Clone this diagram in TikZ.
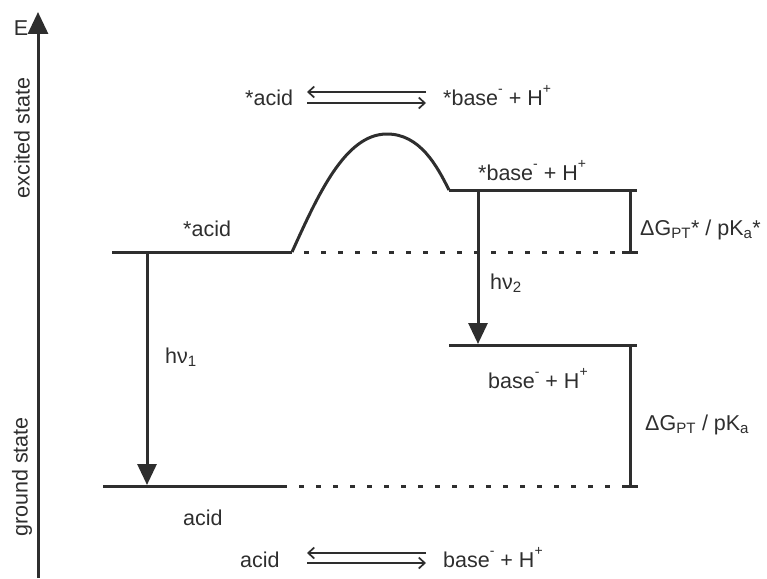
\documentclass[tikz,border=0pt]{standalone}
\usepackage{fontspec}
\setmainfont{Liberation Sans}
\usetikzlibrary{arrows.meta}
\definecolor{ink}{gray}{0.18}
\newcommand{\supx}[1]{\raisebox{0.55em}{\fontsize{14}{14}\selectfont #1}}
\tikzset{
  lvl/.style={line width=3pt, draw=ink},
  dots/.style={line width=3pt, draw=ink, dash pattern=on 5pt off 12pt},
  bar/.style={line width=3pt, draw=ink},
  photon/.style={line width=3pt, draw=ink, -{Triangle[length=21pt,width=19pt]}},
  eq/.style={line width=1.5pt, draw=ink, -{Straight Barb[length=6pt,width=11pt,line width=1.7pt]}},
  lbl/.style={inner sep=0pt, text=ink, font=\fontsize{21.5}{25}\selectfont},
}
\begin{document}
\begin{tikzpicture}[x=1pt,y=-1pt]
\useasboundingbox (0,0) rectangle (767,578);
% axis
\coordinate (ax0) at (38,578);
\coordinate (ax1) at (38,12);
\draw[line width=3pt, draw=ink, -{Triangle[length=22pt,width=20pt]}] (ax0) -- (ax1);
\node[lbl, anchor=base] (E) at (21,36) {E};
\node[lbl, rotate=90] (exc) at (22,138) {excited state};
\node[lbl, rotate=90] (gnd) at (22,477) {ground state};

% levels
\coordinate (sa0) at (112,252); \coordinate (sa1) at (292,252);
\coordinate (ga0) at (103,486); \coordinate (ga1) at (287,486);
\coordinate (sb0) at (449,190); \coordinate (sb1) at (637,190);
\coordinate (gb0) at (449,345); \coordinate (gb1) at (637,345);
\coordinate (sd1) at (622,252); \coordinate (gd1) at (622,486);
\coordinate (st0) at (622,252); \coordinate (st1) at (638,252);
\coordinate (gt0) at (622,486); \coordinate (gt1) at (638,486);
\draw[lvl] (sa0) -- (sa1);
\draw[lvl] (ga0) -- (ga1);
\draw[lvl] (sb0) -- (sb1);
\draw[lvl] (gb0) -- (gb1);
\draw[dots] (sa1) ++(12,0) -- (sd1);
\draw[dots] (ga1) ++(12,0) -- (gd1);
\draw[bar] (st0) -- (st1);
\draw[bar] (gt0) -- (gt1);
% barrier
\coordinate (pk) at (387,134);
\draw[lvl, line join=round] (sa1) .. controls (318,195) and (345,134) .. (pk)
  .. controls (420,134) and (437,166) .. (sb0);
% vertical bars
\coordinate (vb0) at (630,190); \coordinate (vb1) at (630,252);
\coordinate (vc0) at (630,345); \coordinate (vc1) at (630,486);
\draw[bar] (vb0) -- (vb1);
\draw[bar] (vc0) -- (vc1);
% photons
\coordinate (p1a) at (147,252); \coordinate (p1b) at (147,485);
\coordinate (p2a) at (478,190); \coordinate (p2b) at (478,344);
\draw[photon] (p1a) -- (p1b);
\draw[photon] (p2a) -- (p2b);
\node[lbl, anchor=base west] (hv1) at (165,363) {hν\textsubscript{1}};
\node[lbl, anchor=base west] (hv2) at (490,289) {hν\textsubscript{2}};

% level labels
\node[lbl, anchor=base west] (lsa) at (183,236) {*acid};
\node[lbl, anchor=base west] (lga) at (183,525) {acid};
\node[lbl, anchor=base west] (lsb) at (478,180) {*base\supx{-} + H\supx{+}};
\node[lbl, anchor=base west] (lgb) at (488,388) {base\supx{-} + H\supx{+}};
\node[lbl, anchor=base west] (dg1) at (640,235) {ΔG\textsubscript{PT}* / pK\textsubscript{a}*};
\node[lbl, anchor=base west] (dg2) at (645,430) {ΔG\textsubscript{PT} / pK\textsubscript{a}};

% top equilibrium
\node[lbl, anchor=base west] (ta) at (245,105) {*acid};
\node[lbl, anchor=base west] (tb) at (443,105) {*base\supx{-} + H\supx{+}};
\coordinate (tu0) at (426,92); \coordinate (tu1) at (307,92);
\coordinate (tl0) at (307,103); \coordinate (tl1) at (426,103);
\draw[eq] (tu0) -- (tu1);
\draw[eq] (tl0) -- (tl1);
% bottom equilibrium
\node[lbl, anchor=base west] (ba) at (240,567) {acid};
\node[lbl, anchor=base west] (bb) at (443,567) {base\supx{-} + H\supx{+}};
\coordinate (bu0) at (426,553); \coordinate (bu1) at (307,553);
\coordinate (bl0) at (307,563); \coordinate (bl1) at (426,563);
\draw[eq] (bu0) -- (bu1);
\draw[eq] (bl0) -- (bl1);
\end{tikzpicture}
\end{document}
